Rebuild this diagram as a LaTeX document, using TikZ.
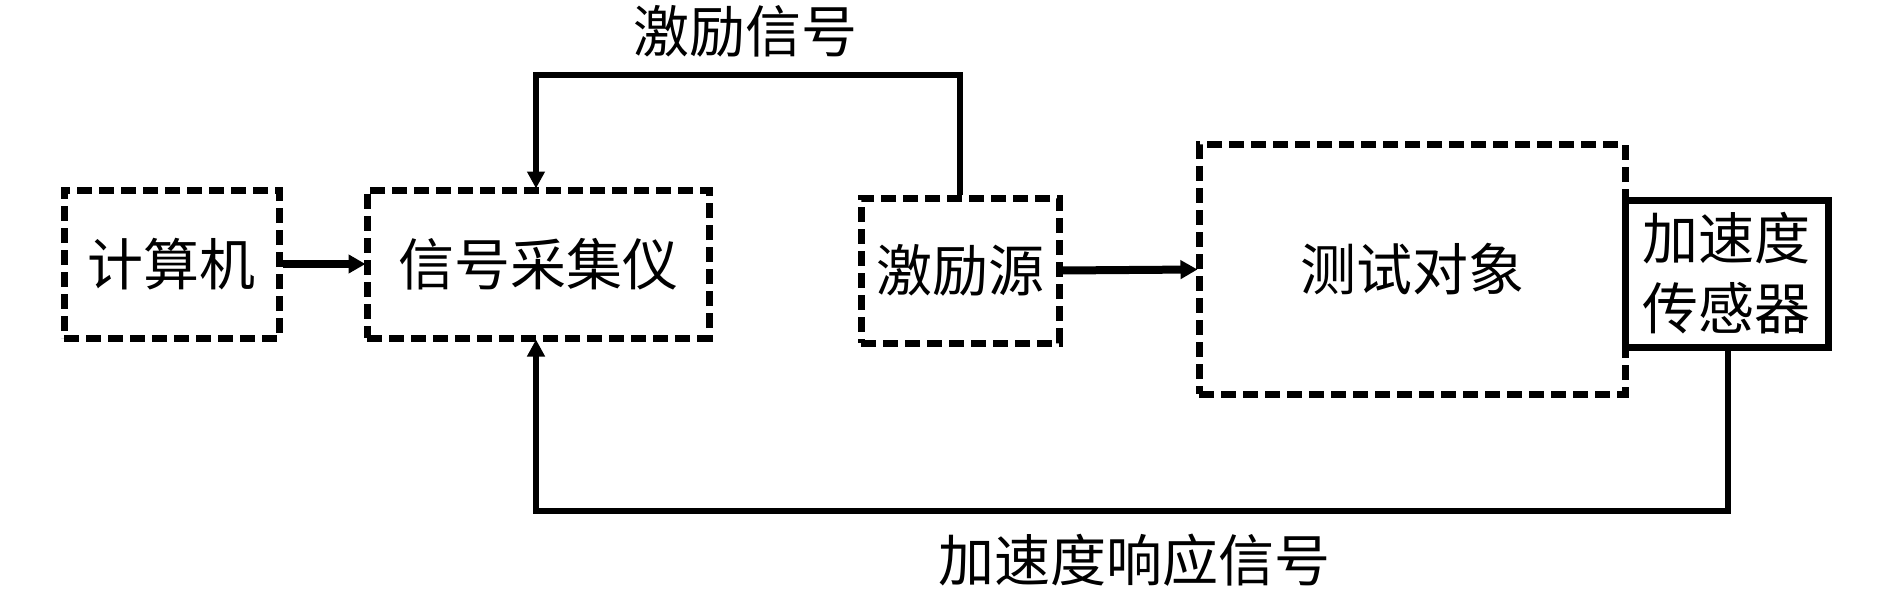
\documentclass[tikz,border=0pt]{standalone}
\usepackage{fontspec}
\setmainfont{Noto Sans CJK SC}
\usetikzlibrary{arrows.meta}
\begin{document}
\begin{tikzpicture}[x=1pt,y=-1pt,
  txt/.style={font=\fontsize{56}{70}\selectfont, align=center, inner sep=0pt},
  dbox/.style={draw, line width=7pt, dash pattern=on 15pt off 7pt, inner sep=0pt, txt},
  sbox/.style={draw, line width=7pt, inner sep=0pt, txt},
  conn/.style={line width=6pt},
  arr/.style={conn, -{Triangle[length=17pt, width=17pt]}, shorten >=-2pt},
  harr/.style={arr, line width=8pt, -{Triangle[length=17pt, width=18pt]}}]
\useasboundingbox (0,0) rectangle (1890,591);
\node[dbox, minimum width=215pt, minimum height=148pt] (comp) at (171.5,264) {计算机};
\node[dbox, minimum width=342pt, minimum height=148pt] (daq) at (538,264) {信号采集仪};
\node[dbox, minimum width=198pt, minimum height=145pt] (exc) at (960,270.5) {激励源};
\node[dbox, minimum width=426pt, minimum height=249pt] (obj) at (1412,269.5) {测试对象};
\node[sbox, minimum width=203pt, minimum height=147pt] (sens) at (1726.5,273.5) {加速度\\传感器};
\node[txt] (lab1) at (745,31) {激励信号};
\node[txt] (lab2) at (1134,560) {加速度响应信号};
\coordinate (t1) at (960,75);
\coordinate (t2) at (536,75);
\coordinate (b1) at (1728,511);
\coordinate (b2) at (536,511);
\draw[harr] (comp.east) -- (daq.west);
\draw[harr] (exc.east) -- (obj.west);
\draw[arr] (exc.north) -- (t1) -- (t2) -- (t2 |- daq.north);
\draw[arr] (b1 |- sens.south) -- (b1) -- (b2) -- (b2 |- daq.south);
\end{tikzpicture}
\end{document}
